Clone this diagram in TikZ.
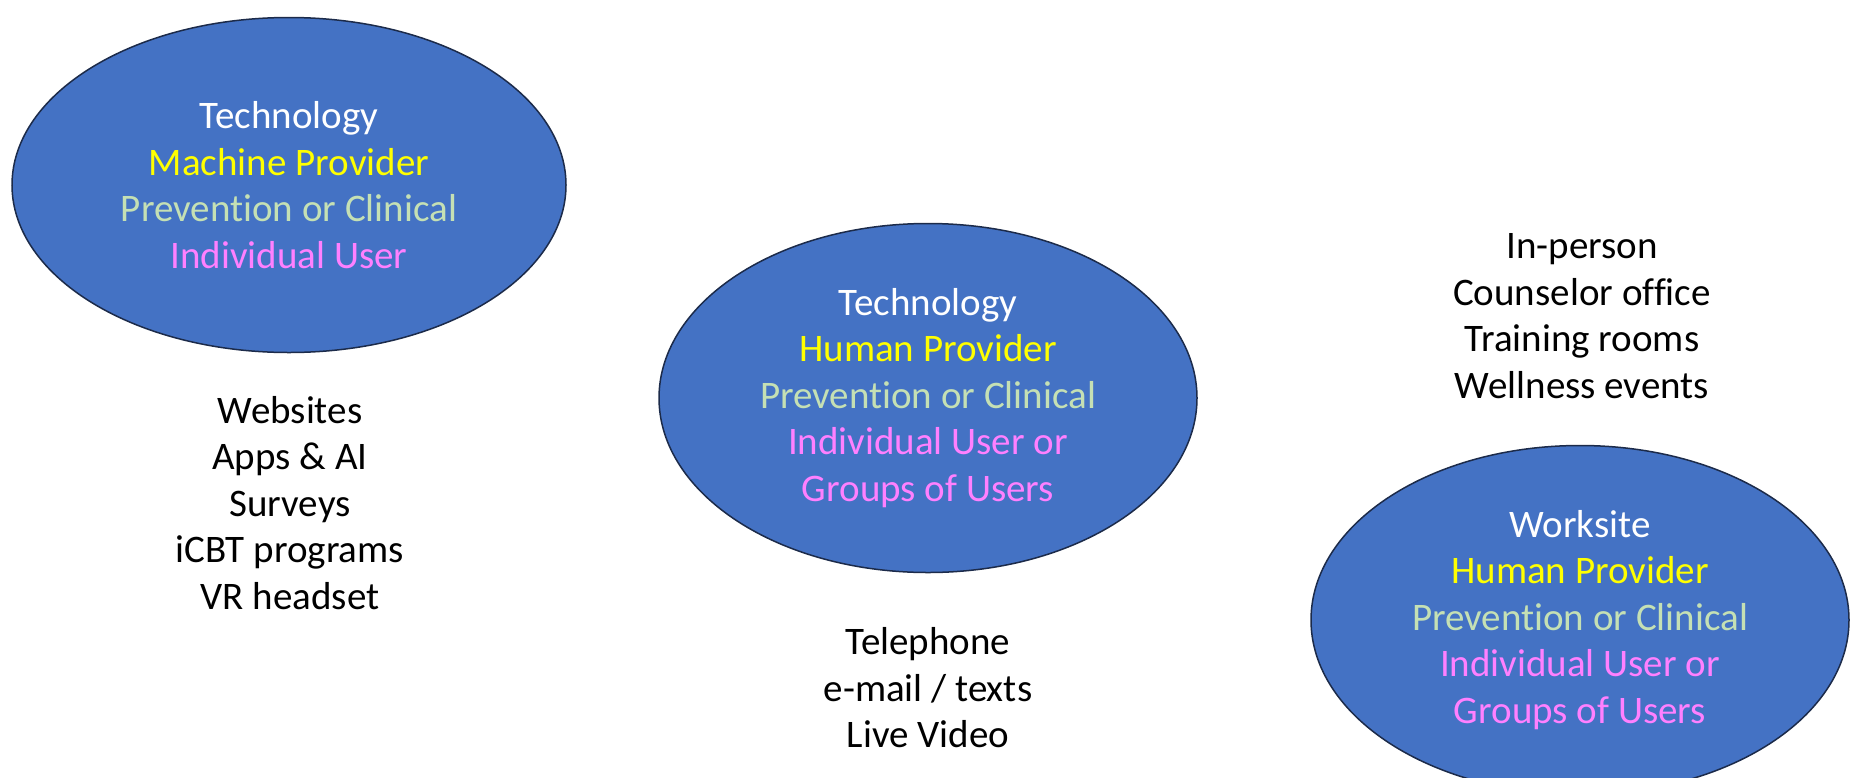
\documentclass[tikz,border=0pt]{standalone}
\usepackage{fontspec}
\setmainfont[Ligatures={NoCommon}]{Carlito}
\usetikzlibrary{shapes.geometric}

\begin{document}
\begin{tikzpicture}
		[x=1pt,y=-1pt,line cap=round,
		%Styles
		setting/.style={ellipse,draw=ringcolor,line width=1.5pt,fill=ovalcolor,
			inner sep=0pt,align=center,text=white,
			font=\fontsize{39}{46.5}\selectfont},
		examples/.style={align=center,text=black,
			font=\fontsize{39}{46.5}\selectfont}
		]
		
		%Colors
		\definecolor{ovalcolor}{HTML}{4472C4}
		\definecolor{ringcolor}{HTML}{1C2B4A}
		\definecolor{providercolor}{HTML}{FFFF00}
		\definecolor{kindcolor}{HTML}{C5E0B4}
		\definecolor{usercolor}{HTML}{FF80FF}
		
		\useasboundingbox (0,0) rectangle (1855,777);
		
		%The graphic
		\node[setting,minimum width=554pt,minimum height=335pt] (machine) at (289,185)
			{Technology\\ \color{providercolor}Machine Provider\\
			 \color{kindcolor}Prevention or Clinical\\ \color{usercolor}Individual User};
		\node[setting,minimum width=538pt,minimum height=349pt] (remote) at (928,398)
			{Technology\\ \color{providercolor}Human Provider\\
			 \color{kindcolor}Prevention or Clinical\\ \color{usercolor}Individual User or\\
			 \color{usercolor}Groups of Users};
		\node[setting,minimum width=538pt,minimum height=349pt] (worksite) at (1580,620)
			{Worksite\\ \color{providercolor}Human Provider\\
			 \color{kindcolor}Prevention or Clinical\\ \color{usercolor}Individual User or\\
			 \color{usercolor}Groups of Users};
		
		\node[examples] (digital) at (290,503)
			{Websites\\ Apps \& AI\\ Surveys\\ iCBT programs\\ VR headset};
		\node[examples] (distance) at (928,688)
			{Telephone\\ e-mail / texts\\ Live Video};
		\node[examples] (inperson) at (1582,316)
			{In-person\\ Counselor office\\ Training rooms\\ Wellness events};
	\end{tikzpicture}
\end{document}
